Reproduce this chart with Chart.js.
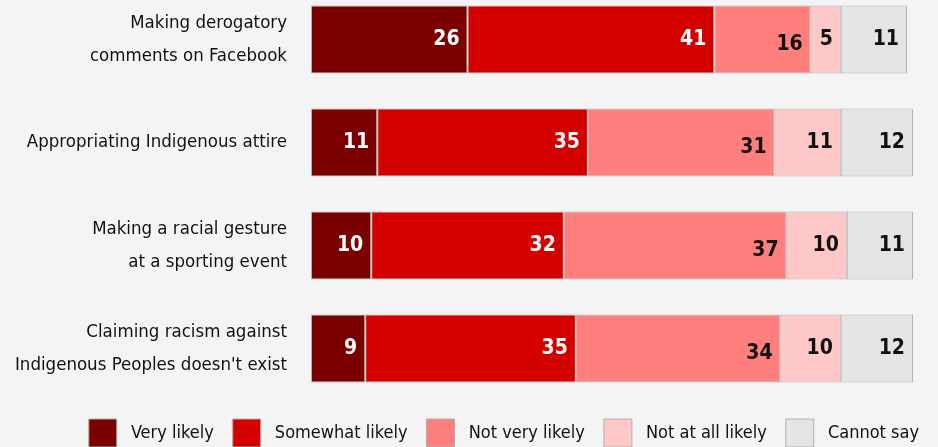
<!DOCTYPE html>
<html>
<head>
<meta charset="utf-8">
<script src="https://cdn.jsdelivr.net/npm/chart.js@4/dist/chart.umd.min.js"></script>
<style>
  html, body { margin: 0; padding: 0; background: #f4f4f4; overflow: hidden; width: 938px; height: 447px; }
  #wrap { position: absolute; left: 0; top: -12px; width: 938px; height: 469px; }
</style>
</head>
<body>
<div id="wrap"><canvas id="c"></canvas></div>
<script>
const categories = [
  ["Making derogatory", "comments on Facebook"],
  "Appropriating Indigenous attire",
  ["Making a racial gesture", "at a sporting event"],
  ["Claiming racism against", "Indigenous Peoples doesn't exist"]
];
const seriesNames = ["Very likely", "Somewhat likely", "Not very likely", "Not at all likely", "Cannot say"];
const veryLikely     = [26, 11, 10, 9];
const somewhatLikely = [41, 35, 32, 35];
const notVeryLikely  = [16, 31, 37, 34];
const notAtAllLikely = [5, 11, 10, 10];
const cannotSay      = [11, 12, 11, 12];

const colors = ["#7b0000", "#d40000", "#ff7f7f", "#ffc8c8", "#e4e4e4"];
const labelColors = ["#ffffff", "#ffffff", "#111111", "#111111", "#111111"];
const labelDy = [0, 0, 5, 0, 0];
const FONT = "'DejaVu Sans Condensed', 'DejaVu Sans', sans-serif";

const seriesValues = [veryLikely, somewhatLikely, notVeryLikely, notAtAllLikely, cannotSay];

const valueLabels = {
  id: 'valueLabels',
  afterDatasetsDraw(chart) {
    const ctx = chart.ctx;
    ctx.save();
    ctx.font = "bold 21px " + FONT;
    ctx.textAlign = 'right';
    ctx.textBaseline = 'middle';
    chart.data.datasets.forEach((ds, i) => {
      const meta = chart.getDatasetMeta(i);
      meta.data.forEach((el, j) => {
        ctx.fillStyle = labelColors[i];
        ctx.fillText(String(ds.data[j]), el.x - 8, el.y + labelDy[i]);
      });
    });
    ctx.restore();
  }
};

new Chart(document.getElementById('c'), {
  type: 'bar',
  data: {
    labels: categories,
    datasets: seriesNames.map((name, i) => ({
      label: name,
      data: seriesValues[i],
      backgroundColor: colors[i],
      borderColor: "#b0b0b0",
      borderWidth: 1,
      borderSkipped: false,
      categoryPercentage: 1,
      barPercentage: 0.662
    }))
  },
  options: {
    indexAxis: 'y',
    responsive: true,
    maintainAspectRatio: false,
    animation: false,
    layout: { padding: 0 },
    scales: {
      x: { stacked: true, min: 0, max: 104.15, display: false },
      y: {
        stacked: true,
        grid: { display: false, drawTicks: false },
        border: { display: false },
        ticks: {
          padding: 24,
          color: "#111111",
          font: { family: FONT, size: 18.5, lineHeight: 1.78 }
        },
        afterFit(scale) {
          scale.width = 311;
          scale.paddingTop = 0;
          scale.paddingBottom = 0;
        }
      }
    },
    plugins: {
      tooltip: { enabled: false },
      legend: {
        position: 'bottom',
        align: 'end',
        labels: {
          boxWidth: 28,
          boxHeight: 28,
          padding: 19,
          color: "#111111",
          font: { family: FONT, size: 18 },
          generateLabels(chart) {
            const items = Chart.defaults.plugins.legend.labels.generateLabels(chart);
            items.forEach(it => { it.text = ' ' + it.text; });
            return items;
          }
        }
      }
    }
  },
  plugins: [valueLabels]
});
</script>
</body>
</html>
